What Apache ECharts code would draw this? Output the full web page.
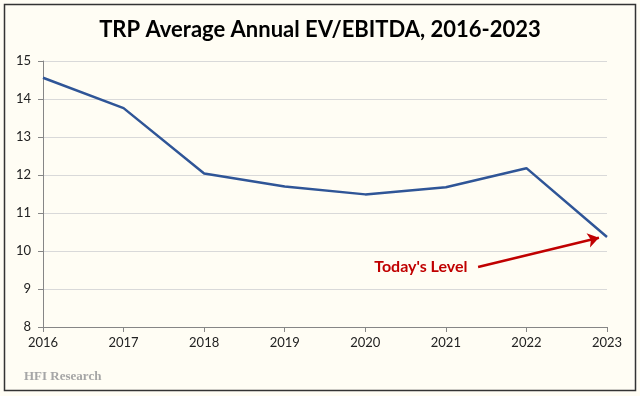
<!DOCTYPE html>
<html>
<head>
<meta charset="utf-8">
<script src="https://cdn.jsdelivr.net/npm/echarts@6/dist/echarts.min.js"></script>
<style>
html,body{margin:0;padding:0;background:#fff;}
#main{width:640px;height:396px;}
</style>
</head>
<body>
<div id="main"></div>
<script>
//年份与估值倍数
var years = [2016, 2017, 2018, 2019, 2020, 2021, 2022, 2023];
var evEbitda = [14.56, 13.76, 12.04, 11.70, 11.49, 11.68, 12.18, 10.37];
var yTicks = [8, 9, 10, 11, 12, 13, 14, 15];
//注释：Today's Level 箭头（数据坐标）
var arrowFrom = [2021.40, 9.58];
var arrowTo = [2022.90, 10.35];
var noteText = "Today's Level";
var notePos = [2020.69, 9.57];

var chart = echarts.init(document.getElementById('main'));
var seriesData = [];
for (var i = 0; i < years.length; i++) {
	seriesData.push([years[i], evEbitda[i]]);
}
var option = {
	backgroundColor: '#FFFDF4',
	animation: false,
	title: {
		text: 'TRP Average Annual EV/EBITDA, 2016-2023',
		left: 'center', top: 14,
		textStyle: {fontFamily: 'Lato', fontWeight: 'bold', fontSize: 22, color: '#000'}
	},
	grid: {left: 43, right: 33, top: 61, bottom: 69},
	xAxis: {
		type: 'value', min: years[0], max: years[years.length - 1], interval: 1,
		axisLine: {lineStyle: {color: '#868686'}},
		axisTick: {show: true, length: 5, lineStyle: {color: '#868686'}},
		splitLine: {show: false},
		axisLabel: {fontFamily: 'Lato', fontSize: 13, color: '#222', margin: 9,
			formatter: function (v) { return String(v); }}
	},
	yAxis: {
		type: 'value', min: yTicks[0], max: yTicks[yTicks.length - 1], interval: 1,
		axisLine: {show: true, lineStyle: {color: '#868686'}},
		axisTick: {show: true, length: 5, lineStyle: {color: '#868686'}},
		splitLine: {lineStyle: {color: '#D9D9D9'}},
		axisLabel: {fontFamily: 'Lato', fontSize: 13, color: '#222', margin: 12}
	},
	series: [{
		type: 'line',
		data: seriesData,
		symbol: 'none',
		lineStyle: {color: '#2F5597', width: 2.5},
		markLine: {
			silent: true,
			symbol: ['none', 'arrow'],
			symbolSize: 11,
			lineStyle: {color: '#C00000', width: 2.5, type: 'solid'},
			itemStyle: {color: '#C00000'},
			label: {show: false},
			data: [[{coord: arrowFrom}, {coord: arrowTo}]]
		}
	}]
};
chart.setOption(option);

//注释文字与外框
var p = chart.convertToPixel({gridIndex: 0}, notePos);
chart.setOption({
	graphic: [
		{type: 'text', x: p[0], y: p[1],
			style: {text: noteText, fill: '#C00000', font: 'bold 16px Lato', align: 'center', verticalAlign: 'middle'}},
		{type: 'text', left: 24, top: 370,
			style: {text: 'HFI Research', fill: '#A6A6A6', font: 'bold 13px "Liberation Serif"'}},
		{type: 'rect', shape: {x: 4.5, y: 4.5, width: 631, height: 386},
			style: {fill: 'none', stroke: '#333', lineWidth: 1.5}, silent: true}
	]
});
</script>
</body>
</html>
